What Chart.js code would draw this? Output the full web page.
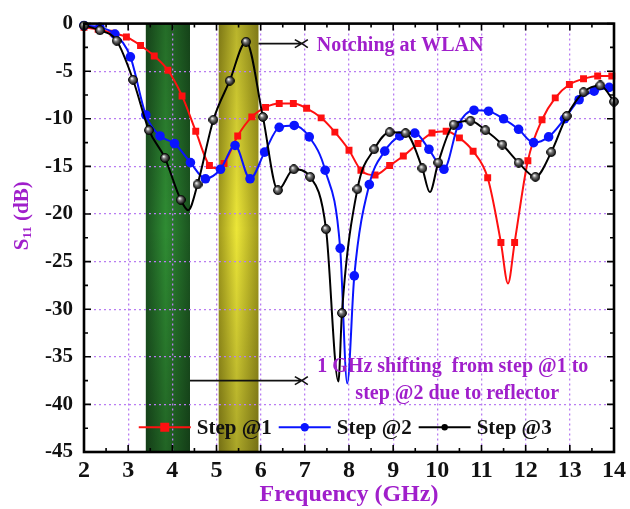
<!DOCTYPE html>
<html>
<head>
<meta charset="utf-8">
<script src="https://cdn.jsdelivr.net/npm/chart.js@4.4.1/dist/chart.umd.min.js"></script>
<style>
  html, body { margin: 0; padding: 0; background: #fff; }
  #wrap { width: 630px; height: 509px; }
</style>
</head>
<body>
<div id="wrap"><canvas id="s11Chart" width="630" height="509"></canvas></div>
<script>
// Return loss of the three design steps (frequency in GHz, S11 in dB)
const step1Freq = [2.0, 2.32, 2.66, 2.96, 3.28, 3.59, 3.90, 4.22, 4.53, 4.84, 5.17, 5.48, 5.80, 6.11, 6.42, 6.74, 7.04, 7.37, 7.68, 8.00,
                   8.27, 8.59, 8.92, 9.23, 9.56, 9.88, 10.20, 10.50, 10.81, 11.14, 11.44, 11.75, 12.05, 12.37, 12.67, 12.99, 13.31, 13.63, 13.95];
const step1S11 = [-0.4, -0.6, -1.0, -1.4, -2.3, -3.4, -4.9, -7.6, -11.3, -14.9, -14.7, -11.8, -9.8, -8.8, -8.4, -8.4, -8.9, -9.9, -11.4, -13.3,
                  -15.4, -15.9, -14.9, -13.9, -12.6, -11.5, -11.3, -12.0, -13.4, -16.2, -23.0, -23.0, -14.4, -10.1, -7.8, -6.4, -5.8, -5.5, -5.5];
// resonance minima that fall between plotted symbols
const step1MinFreq = [5.0, 11.6];
const step1MinS11 = [-15.2, -27.3];

const step2Freq = [2.0, 2.36, 2.70, 3.05, 3.40, 3.72, 4.05, 4.41, 4.75, 5.09, 5.42, 5.76, 6.09, 6.42, 6.76, 7.10, 7.46, 7.80,
                   8.12, 8.46, 8.81, 9.15, 9.49, 9.81, 10.15, 10.47, 10.83, 11.16, 11.50, 11.84, 12.18, 12.52, 12.88, 13.21, 13.55, 13.89];
const step2S11 = [-0.2, -0.4, -1.1, -3.5, -9.6, -11.8, -12.6, -14.6, -16.3, -15.3, -12.8, -16.3, -13.5, -10.9, -10.7, -11.9, -15.4, -23.6,
                  -26.5, -16.9, -13.4, -11.8, -11.5, -13.2, -15.3, -10.7, -9.1, -9.2, -10.0, -11.1, -12.5, -11.9, -10.0, -8.0, -7.1, -6.7];
const step2MinFreq = [7.96];
const step2MinS11 = [-37.8];

const step3Freq = [2.0, 2.36, 2.74, 3.11, 3.47, 3.83, 4.19, 4.57, 4.93, 5.30, 5.67, 6.05, 6.39, 6.75, 7.12, 7.48, 7.84,
                   8.19, 8.57, 8.92, 9.28, 9.66, 10.02, 10.37, 10.75, 11.09, 11.47, 11.84, 12.22, 12.58, 12.93, 13.31, 13.69, 14.0];
const step3S11 = [-0.2, -0.7, -1.8, -5.9, -11.2, -14.1, -18.5, -16.9, -10.1, -6.0, -1.9, -9.8, -17.5, -15.3, -16.1, -21.6, -30.4,
                  -17.4, -13.2, -11.4, -11.5, -15.2, -14.6, -10.6, -10.2, -11.2, -12.7, -14.6, -16.1, -13.5, -9.7, -7.2, -6.5, -8.2];
const step3MinFreq = [4.36, 7.76, 9.83];
const step3MinS11 = [-19.6, -37.6, -17.7];

const seriesLabels = ['Step @1', 'Step @2', 'Step @3'];

// shaded bands (GHz)
const bandStart = [3.4, 5.05];
const bandEnd = [4.4, 5.95];

const notchText = 'Notching at WLAN';
const shiftText = ['1 GHz shifting  from step @1 to', 'step @2 due to reflector'];

const FONT = "'Liberation Serif', 'Times New Roman', serif";
const PURPLE = '#a01fcb';
const GRID = '#b87cf2';

function buildPoints(freq, vals, minFreq, minVals) {
    const pts = freq.map((f, i) => ({ x: f, y: vals[i], marker: true }));
    minFreq.forEach((f, i) => pts.push({ x: f, y: minVals[i], marker: false }));
    return pts.sort((a, b) => a.x - b.x);
}

// glossy black sphere used as the Step @3 symbol
function sphere(size) {
    const c = document.createElement('canvas');
    c.width = size; c.height = size;
    const g = c.getContext('2d');
    const r = size / 2;
    const grad = g.createRadialGradient(r * 0.75, r * 0.7, 0.3, r, r, r);
    grad.addColorStop(0, '#ffffff');
    grad.addColorStop(0.35, '#777777');
    grad.addColorStop(1, '#000000');
    g.fillStyle = grad;
    g.beginPath();
    g.arc(r, r, r - 0.6, 0, Math.PI * 2);
    g.fill();
    g.strokeStyle = '#000';
    g.lineWidth = 1;
    g.stroke();
    return c;
}
const ballSymbol = sphere(10);

const markerOnly = r => ctx => (ctx.raw && ctx.raw.marker ? r : 0);

const bandsPlugin = {
    id: 'bands',
    beforeDraw(chart) {
        const { ctx, chartArea: a, scales: { x } } = chart;
        ctx.save();
        ctx.fillStyle = '#fff';
        ctx.fillRect(0, 0, chart.width, chart.height);
        const looks = [
            ['#1b5420', '#2f8c33', '#1b5420'],
            ['#a19a1c', '#ece638', '#a19a1c']
        ];
        bandStart.forEach((s, i) => {
            const x0 = x.getPixelForValue(s);
            const x1 = x.getPixelForValue(bandEnd[i]);
            const h = ctx.createLinearGradient(x0, 0, x1, 0);
            h.addColorStop(0, looks[i][0]);
            h.addColorStop(0.45, looks[i][1]);
            h.addColorStop(1, looks[i][2]);
            ctx.fillStyle = h;
            ctx.fillRect(x0, a.top, x1 - x0, a.height);
            const v = ctx.createLinearGradient(0, a.top, 0, a.bottom);
            v.addColorStop(0, 'rgba(0,0,0,0.22)');
            v.addColorStop(0.48, 'rgba(0,0,0,0)');
            v.addColorStop(1, 'rgba(0,0,0,0.28)');
            ctx.fillStyle = v;
            ctx.fillRect(x0, a.top, x1 - x0, a.height);
        });
        ctx.restore();
    }
};

function arrow(ctx, x1, x2, y) {
    ctx.beginPath();
    ctx.moveTo(x1, y); ctx.lineTo(x2 - 2, y);
    ctx.moveTo(x2 - 10, y - 4); ctx.lineTo(x2 - 3, y); ctx.lineTo(x2 - 10, y + 4);
    ctx.moveTo(x2 + 3, y - 4); ctx.lineTo(x2 - 3, y); ctx.lineTo(x2 + 3, y + 4);
    ctx.stroke();
}

const overlayPlugin = {
    id: 'overlay',
    afterDatasetsDraw(chart) {
        const { ctx, chartArea: a, scales: { x, y } } = chart;
        ctx.save();

        // arrows and notes
        ctx.strokeStyle = '#111';
        ctx.lineWidth = 1.6;
        arrow(ctx, x.getPixelForValue(5.95), x.getPixelForValue(7.0), y.getPixelForValue(-2.1));
        arrow(ctx, x.getPixelForValue(4.4), x.getPixelForValue(7.0), y.getPixelForValue(-37.5));

        ctx.fillStyle = PURPLE;
        ctx.font = 'bold 20px ' + FONT;
        ctx.textBaseline = 'middle';
        ctx.textAlign = 'left';
        ctx.fillText(notchText, x.getPixelForValue(7.27), y.getPixelForValue(-2.3));
        ctx.textAlign = 'center';
        ctx.fillText(shiftText[0], x.getPixelForValue(10.35), y.getPixelForValue(-36.1));
        ctx.fillText(shiftText[1], x.getPixelForValue(10.45), y.getPixelForValue(-38.9));

        // frame with inward ticks
        ctx.strokeStyle = '#000';
        ctx.lineWidth = 1.6;
        ctx.beginPath();
        for (let f = 2; f <= 14; f += 0.5) {
            const px = x.getPixelForValue(f);
            const len = f % 1 === 0 ? 7 : 4;
            ctx.moveTo(px, a.bottom); ctx.lineTo(px, a.bottom - len);
            ctx.moveTo(px, a.top); ctx.lineTo(px, a.top + len);
        }
        for (let d = 0; d >= -45; d -= 2.5) {
            const py = y.getPixelForValue(d);
            const len = d % 5 === 0 ? 7 : 4;
            ctx.moveTo(a.left, py); ctx.lineTo(a.left + len, py);
            ctx.moveTo(a.right, py); ctx.lineTo(a.right - len, py);
        }
        ctx.stroke();
        ctx.lineWidth = 2.6;
        ctx.strokeRect(a.left, a.top, a.right - a.left, a.bottom - a.top);

        // legend inside the plot
        let lx = x.getPixelForValue(3.24);
        const ly = y.getPixelForValue(-42.4);
        ctx.font = 'bold 21px ' + FONT;
        ctx.textAlign = 'left';
        ctx.textBaseline = 'middle';
        chart.data.datasets.forEach((ds, i) => {
            ctx.strokeStyle = ds.borderColor;
            ctx.lineWidth = 2;
            ctx.beginPath();
            ctx.moveTo(lx, ly); ctx.lineTo(lx + 52, ly);
            ctx.stroke();
            const cx = lx + 26;
            ctx.fillStyle = ds.borderColor;
            if (i === 0) {
                ctx.fillRect(cx - 4.5, ly - 4.5, 9, 9);
            } else if (i === 1) {
                ctx.beginPath(); ctx.arc(cx, ly, 4.2, 0, Math.PI * 2); ctx.fill();
            } else {
                ctx.beginPath(); ctx.arc(cx, ly, 3.2, 0, Math.PI * 2); ctx.fill();
            }
            ctx.fillStyle = '#111';
            ctx.fillText(ds.label, lx + 58, ly + 1);
            lx += 58 + ctx.measureText(ds.label).width + 7;
        });
        ctx.restore();
    },
    afterDraw(chart) {
        const { ctx, chartArea: a } = chart;
        // y title with subscript
        ctx.save();
        ctx.translate(23, (a.top + a.bottom) / 2 - 22);
        ctx.rotate(-Math.PI / 2);
        ctx.fillStyle = PURPLE;
        ctx.textBaseline = 'middle';
        const big = 'bold 21px ' + FONT;
        const small = 'bold 13px ' + FONT;
        ctx.font = big;
        const wS = ctx.measureText('S').width;
        const wRest = ctx.measureText(' (dB)').width;
        ctx.font = small;
        const wSub = ctx.measureText('11').width;
        let tx = -(wS + wSub + wRest) / 2;
        ctx.font = big;
        ctx.fillText('S', tx, 0);
        ctx.font = small;
        ctx.fillText('11', tx + wS, 5);
        ctx.font = big;
        ctx.fillText(' (dB)', tx + wS + wSub, 0);
        ctx.restore();
    }
};

const ctx = document.getElementById('s11Chart').getContext('2d');
new Chart(ctx, {
    type: 'line',
    data: {
        datasets: [
            {
                label: seriesLabels[0],
                data: buildPoints(step1Freq, step1S11, step1MinFreq, step1MinS11),
                borderColor: '#ff1010',
                backgroundColor: '#ff1010',
                pointStyle: 'rect',
                pointRadius: markerOnly(4.9),
                order: 3
            },
            {
                label: seriesLabels[1],
                data: buildPoints(step2Freq, step2S11, step2MinFreq, step2MinS11),
                borderColor: '#0a14ff',
                backgroundColor: '#0a14ff',
                pointStyle: 'circle',
                pointRadius: markerOnly(4.8),
                order: 2
            },
            {
                label: seriesLabels[2],
                data: buildPoints(step3Freq, step3S11, step3MinFreq, step3MinS11),
                borderColor: '#000000',
                backgroundColor: '#000000',
                pointStyle: ballSymbol,
                pointRadius: markerOnly(5),
                order: 1
            }
        ]
    },
    options: {
        responsive: false,
        animation: false,
        events: [],
        layout: { padding: { top: 23, right: 13, left: 0, bottom: 0 } },
        datasets: {
            line: {
                borderWidth: 2,
                cubicInterpolationMode: 'monotone',
                pointBorderWidth: 0,
                clip: 6
            }
        },
        plugins: {
            legend: { display: false },
            tooltip: { enabled: false }
        },
        scales: {
            x: {
                type: 'linear',
                min: 2,
                max: 14,
                afterFit: s => { s.height = 57; },
                ticks: {
                    stepSize: 1,
                    padding: 4,
                    color: '#111',
                    font: { family: FONT, size: 24, weight: 'bold' }
                },
                grid: {
                    drawTicks: false,
                    lineWidth: 1.3,
                    color: c => (c.tick && (c.tick.value === 2 || c.tick.value === 14) ? 'rgba(0,0,0,0)' : GRID)
                },
                border: { display: false, dash: [2, 3] },
                title: {
                    display: true,
                    text: 'Frequency (GHz)',
                    color: PURPLE,
                    padding: { top: 0, bottom: 0 },
                    font: { family: FONT, size: 24, weight: 'bold' }
                }
            },
            y: {
                min: -45,
                max: 0,
                afterFit: s => { s.width = 84; },
                ticks: {
                    stepSize: 5,
                    padding: 11,
                    color: '#111',
                    font: { family: FONT, size: 21, weight: 'bold' }
                },
                grid: {
                    drawTicks: false,
                    lineWidth: 1.3,
                    color: c => (c.tick && (c.tick.value === 0 || c.tick.value === -45) ? 'rgba(0,0,0,0)' : GRID)
                },
                border: { display: false, dash: [2, 3] }
            }
        }
    },
    plugins: [bandsPlugin, overlayPlugin]
});
</script>
</body>
</html>
